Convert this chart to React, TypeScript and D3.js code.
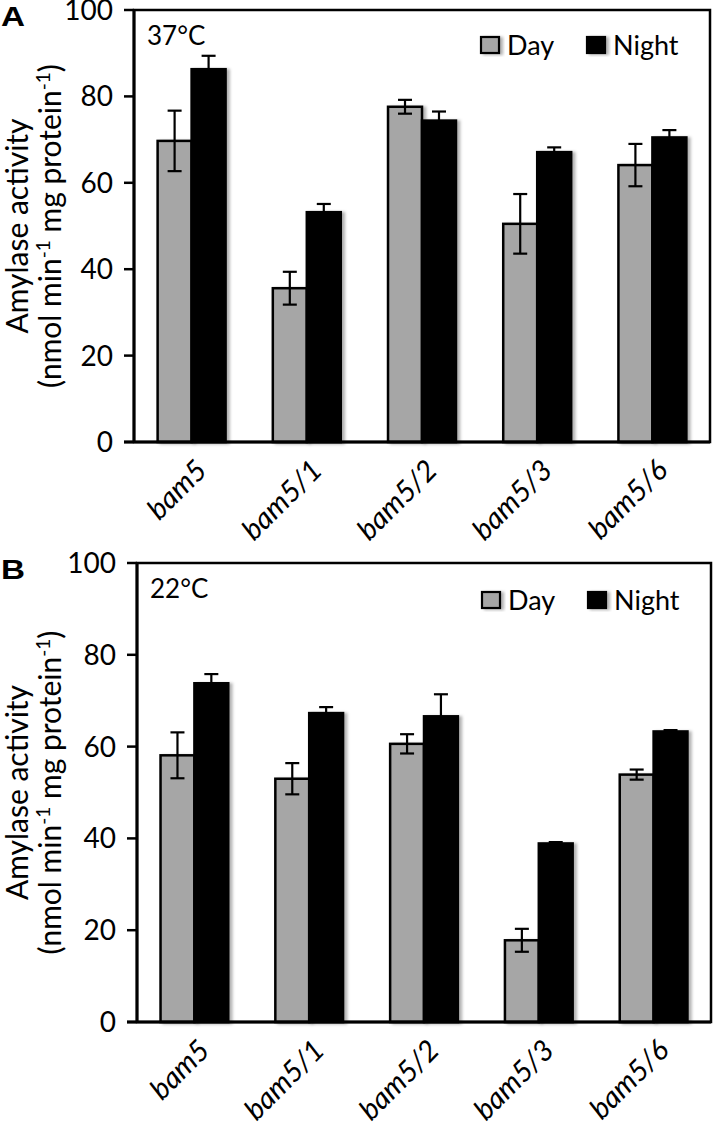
import React from 'react';
import * as d3 from 'd3';

const categories = ['bam5', 'bam5/1', 'bam5/2', 'bam5/3', 'bam5/6'];
const yTicks = [0, 20, 40, 60, 80, 100];

const dayA = [69.7, 35.6, 77.6, 50.5, 64.1];
const dayErrA = [7.0, 3.8, 1.6, 6.9, 4.9];
const nightA = [86.3, 53.2, 74.4, 67.1, 70.5];
const nightErrA = [3.1, 1.9, 2.1, 1.1, 1.7];

const dayB = [58.1, 53.0, 60.6, 17.8, 53.9];
const dayErrB = [5.0, 3.4, 2.1, 2.5, 1.1];
const nightB = [73.8, 67.3, 66.6, 38.9, 63.3];
const nightErrB = [2.0, 1.3, 4.8, 0.3, 0.3];

const FONT = 'Lato, "Open Sans", sans-serif';
const DAY_FILL = '#a6a6a6';

type PanelProps = {
  letter: string;
  temp: string;
  left: number;
  right: number;
  top: number;
  bottom: number;
  day: number[];
  dayErr: number[];
  night: number[];
  nightErr: number[];
  legendY: number;
};

function Panel(p: PanelProps) {
  const x = d3.scaleBand<string>().domain(categories).range([p.left, p.right]).padding(0);
  const y = d3.scaleLinear().domain([0, 100]).range([p.bottom, p.top]);
  const bw = x.bandwidth() * 0.295;
  const cx = (c: string) => (x(c) as number) + x.bandwidth() / 2;
  const midY = (p.top + p.bottom) / 2;
  const cap = 7;

  const errBar = (xc: number, v: number, e: number, key: string) => (
    <g key={key} stroke="#000" strokeWidth={2.2}>
      <line x1={xc} x2={xc} y1={y(v + e)} y2={y(v - e)} />
      <line x1={xc - cap} x2={xc + cap} y1={y(v + e)} y2={y(v + e)} />
      <line x1={xc - cap} x2={xc + cap} y1={y(v - e)} y2={y(v - e)} />
    </g>
  );

  return (
    <g>
      {/* panel letter */}
      <text x={1} y={p.top + 16} fontFamily='"Liberation Sans", Arial, sans-serif' fontWeight="bold" fontSize={27}
        textLength={24} lengthAdjust="spacingAndGlyphs">
        {p.letter}
      </text>
      {/* y axis title */}
      <g transform={`translate(28, ${midY}) rotate(-90)`}>
        <text textAnchor="middle" fontFamily={FONT} fontSize={30} x={0} y={0}>
          Amylase activity
        </text>
      </g>
      <g transform={`translate(61, ${midY}) rotate(-90)`}>
        <text textAnchor="middle" fontFamily={FONT} fontSize={30} x={0} y={0}>
          (nmol min
          <tspan dy={-11} fontSize={19}>-1</tspan>
          <tspan dy={11}> mg protein</tspan>
          <tspan dy={-11} fontSize={19}>-1</tspan>
          <tspan dy={11}>)</tspan>
        </text>
      </g>
      {/* y ticks */}
      {yTicks.map((t) => (
        <g key={t}>
          <line x1={p.left - 10} x2={p.left} y1={y(t)} y2={y(t)} stroke="#000" strokeWidth={2.5} />
          <text x={p.left - 21} y={y(t) + 10} textAnchor="end" fontFamily={FONT} fontSize={28}>
            {t}
          </text>
        </g>
      ))}
      {/* bars */}
      {categories.map((c, i) => (
        <g key={c}>
          <rect x={cx(c) - bw} y={y(p.day[i])} width={bw} height={y(0) - y(p.day[i])}
            fill={DAY_FILL} stroke="#000" strokeWidth={2.5} filter="url(#shadow)" />
          <rect x={cx(c)} y={y(p.night[i])} width={bw} height={y(0) - y(p.night[i])}
            fill="#000" stroke="#000" strokeWidth={2.5} filter="url(#shadow)" />
        </g>
      ))}
      {categories.map((c, i) => errBar(cx(c) - bw / 2, p.day[i], p.dayErr[i], c + 'd'))}
      {categories.map((c, i) => errBar(cx(c) + bw / 2, p.night[i], p.nightErr[i], c + 'n'))}
      {/* frame */}
      <rect x={p.left} y={p.top} width={p.right - p.left} height={p.bottom - p.top}
        fill="none" stroke="#000" strokeWidth={2.5} />
      <line x1={p.left} x2={p.left} y1={p.top} y2={p.bottom} stroke="#000" strokeWidth={3} />
      <line x1={p.left - 10} x2={p.right} y1={p.bottom} y2={p.bottom} stroke="#000" strokeWidth={3} />
      {/* temp label */}
      <text x={p.left + 13} y={p.top + 35} fontFamily={FONT} fontSize={26}>
        {p.temp}
      </text>
      {/* legend */}
      <rect x={p.right - 229} y={p.legendY} width={18} height={16} fill={DAY_FILL} stroke="#000" strokeWidth={2.2} filter="url(#shadow)" />
      <text x={p.right - 203} y={p.legendY + 18} fontFamily={FONT} fontSize={27}>Day</text>
      <rect x={p.right - 123} y={p.legendY} width={18} height={16} fill="#000" stroke="#000" strokeWidth={2.2} filter="url(#shadow)" />
      <text x={p.right - 97} y={p.legendY + 18} fontFamily={FONT} fontSize={27}>Night</text>
      {/* x labels */}
      {categories.map((c) => (
        <text key={c} transform={`translate(${cx(c) + 17}, ${p.bottom + 30}) rotate(-45)`}
          textAnchor="end" fontFamily={FONT} fontStyle="italic" fontSize={29}>
          {c}
        </text>
      ))}
    </g>
  );
}

export default function App() {
  return (
    <svg width={717} height={1124} style={{ position: 'absolute', left: 0, top: 0, background: '#fff' }}>
      <defs>
        <filter id="shadow" x="-20%" y="-20%" width="150%" height="140%">
          <feDropShadow dx={3} dy={1} stdDeviation={1.5} floodColor="#000" floodOpacity={0.3} />
        </filter>
      </defs>
      <rect x={0} y={0} width={717} height={1124} fill="#fff" />
      <Panel letter="A" temp="37°C" left={134} right={710} top={10} bottom={442}
        day={dayA} dayErr={dayErrA} night={nightA} nightErr={nightErrA} legendY={37} />
      <Panel letter="B" temp="22°C" left={137} right={711} top={563} bottom={1022}
        day={dayB} dayErr={dayErrB} night={nightB} nightErr={nightErrB} legendY={592} />
    </svg>
  );
}
